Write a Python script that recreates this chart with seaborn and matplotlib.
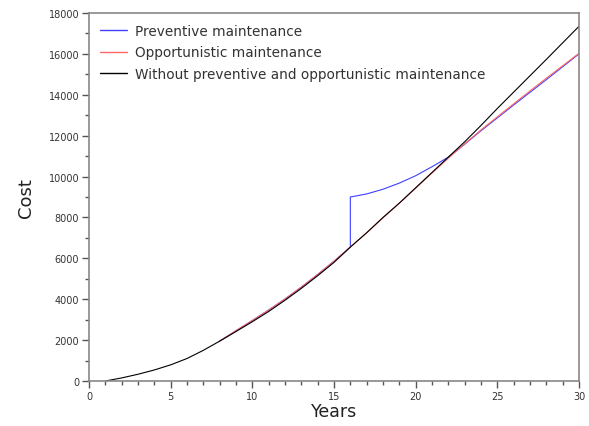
import numpy as np
import pandas as pd
import seaborn as sns
import matplotlib
matplotlib.use("Agg")
import matplotlib.pyplot as plt
from matplotlib.ticker import MultipleLocator

# --- data ---
years_black = [1, 2, 3, 4, 5, 6, 7, 8, 9, 10, 11, 12, 13, 14, 15, 16, 17, 18, 19, 20,
               21, 22, 23, 24, 25, 26, 27, 28, 29, 30]
cost_black = [0, 150, 330, 540, 790, 1100, 1500, 1950, 2420, 2900, 3400, 3950, 4530, 5150,
              5800, 6550, 7250, 8000, 8700, 9450, 10200, 10950, 11700, 12500, 13330, 14130,
              14930, 15730, 16540, 17350]

years_red = [8, 9, 10, 11, 12, 13, 14, 15, 16, 17, 18, 19, 20, 21, 22, 23, 24, 25, 26,
             27, 28, 29, 30]
cost_red = [1950, 2460, 2960, 3470, 4010, 4590, 5210, 5860, 6550, 7250, 7980, 8700, 9430,
            10170, 10900, 11600, 12280, 12920, 13560, 14190, 14810, 15420, 16030]

years_blue = [8, 9, 10, 11, 12, 13, 14, 15, 16, 16, 17, 18, 19, 20, 21, 22, 23, 24, 25,
              26, 27, 28, 29, 30]
cost_blue = [1950, 2460, 2960, 3470, 4010, 4590, 5210, 5860, 6550, 9000, 9150, 9380, 9680,
             10040, 10480, 10950, 11580, 12240, 12870, 13500, 14120, 14740, 15370, 16000]

labels = ["Preventive maintenance", "Opportunistic maintenance",
          "Without preventive and opportunistic maintenance"]
colors = ["#4040ff", "#ff6666", "#000000"]

df = pd.concat([
    pd.DataFrame({"Years": years_blue, "Cost": cost_blue, "series": labels[0]}),
    pd.DataFrame({"Years": years_red, "Cost": cost_red, "series": labels[1]}),
    pd.DataFrame({"Years": years_black, "Cost": cost_black, "series": labels[2]}),
], ignore_index=True)

sns.set_style("white")
plt.rcParams["font.family"] = ["DejaVu Sans"]

fig = plt.figure(figsize=(5.89, 4.27), dpi=100)
ax = fig.add_axes([89 / 589, 45 / 427, 490 / 589, 368 / 427])

sns.lineplot(data=df, x="Years", y="Cost", hue="series", hue_order=labels,
             palette=dict(zip(labels, colors)), estimator=None, sort=False,
             units="series", linewidth=0.8, ax=ax, legend=True)

ax.set_xlim(0, 30)
ax.set_ylim(0, 18000)
ax.xaxis.set_major_locator(MultipleLocator(5))
ax.xaxis.set_minor_locator(MultipleLocator(1))
ax.yaxis.set_major_locator(MultipleLocator(2000))
ax.yaxis.set_minor_locator(MultipleLocator(1000))

for s in ax.spines.values():
    s.set_color("#888888")
    s.set_linewidth(1.2)

ax.tick_params(axis="both", which="major", direction="out", length=5, width=1,
               color="#555555", labelsize=7, labelcolor="#333333", pad=2,
               bottom=True, left=True)
ax.tick_params(axis="both", which="minor", direction="out", length=3, width=1,
               color="#555555", bottom=True, left=True)

ax.set_xlabel("Years", fontsize=12.5, color="#222222", labelpad=1)
ax.set_ylabel("Cost", fontsize=13, color="#222222", labelpad=10)

leg = ax.legend(loc="upper left", frameon=False, fontsize=9.8, handlelength=2.0,
                handletextpad=0.6, labelspacing=0.55, borderaxespad=0.4,
                bbox_to_anchor=(0.0, 1.0))
for t in leg.get_texts():
    t.set_color("#333333")
for line in leg.get_lines():
    line.set_linewidth(1.0)

fig.savefig("out.png", dpi=100)
